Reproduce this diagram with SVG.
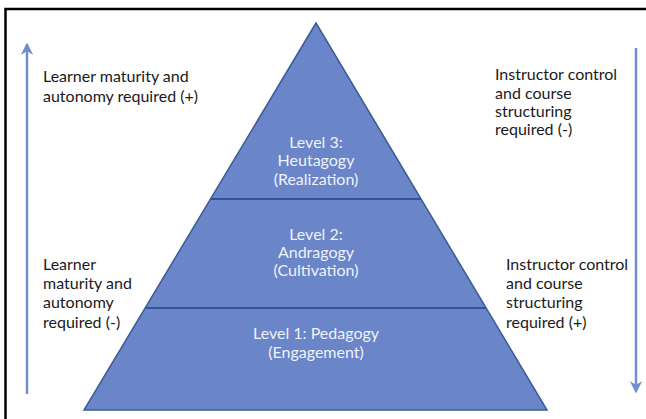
<svg xmlns="http://www.w3.org/2000/svg" width="646" height="419" viewBox="0 0 646 419">
<defs>
<style>
.lbl{font-family:Lato,"Open Sans","Liberation Sans",sans-serif;font-size:16px;fill:#1a1a1a}
.in{font-family:Lato,"Open Sans","Liberation Sans",sans-serif;font-size:16px;fill:#eef2fb;text-anchor:middle}
.lvl{fill:#6a85c8;stroke:#3a5b96;stroke-width:1.5}
.div{stroke:#2f5597;stroke-width:2}
.arr{stroke:#6f8fcf;stroke-width:2.5;fill:none}
</style>
<marker id="ah" viewBox="0 0 10 10" refX="8" refY="5" markerWidth="5" markerHeight="5" orient="auto">
<path d="M0,0 L10,5 L0,10 L3,5 z" fill="#6f8fcf"/>
</marker>
</defs>
<rect width="646" height="419" fill="#ffffff"/>
<path d="M5.5,419 L5.5,9 L646,9" fill="none" stroke="#000" stroke-width="2.5"/>
<g id="pyramid">
<polygon class="lvl" points="316,23 84,410 547,410"/>
</g>
<g id="connectors">
<line class="div" x1="211" y1="199" x2="421" y2="199"/>
<line class="div" x1="146" y1="308" x2="486" y2="308"/>
<line class="arr" x1="27" y1="394" x2="27" y2="45" marker-end="url(#ah)"/>
<line class="arr" x1="636" y1="48" x2="636" y2="391" marker-end="url(#ah)"/>
</g>
<g id="level3">
<text class="in" x="316" y="148">Level 3:</text>
<text class="in" x="316" y="166">Heutagogy</text>
<text class="in" x="316" y="185">(Realization)</text>
</g>
<g id="level2">
<text class="in" x="316" y="240">Level 2:</text>
<text class="in" x="316" y="258">Andragogy</text>
<text class="in" x="316" y="276">(Cultivation)</text>
</g>
<g id="level1">
<text class="in" x="316" y="339">Level 1: Pedagogy</text>
<text class="in" x="316" y="358">(Engagement)</text>
</g>
<g id="left-top">
<text class="lbl" x="43" y="82">Learner maturity and</text>
<text class="lbl" x="43" y="102">autonomy required (+)</text>
</g>
<g id="left-bottom">
<text class="lbl" x="43" y="270">Learner</text>
<text class="lbl" x="43" y="289">maturity and</text>
<text class="lbl" x="43" y="308">autonomy</text>
<text class="lbl" x="43" y="328">required (-)</text>
</g>
<g id="right-top">
<text class="lbl" x="495" y="80">Instructor control</text>
<text class="lbl" x="495" y="99">and course</text>
<text class="lbl" x="495" y="117">structuring</text>
<text class="lbl" x="495" y="135">required (-)</text>
</g>
<g id="right-bottom">
<text class="lbl" x="506" y="270">Instructor control</text>
<text class="lbl" x="506" y="289">and course</text>
<text class="lbl" x="506" y="308">structuring</text>
<text class="lbl" x="506" y="328">required (+)</text>
</g>
</svg>
